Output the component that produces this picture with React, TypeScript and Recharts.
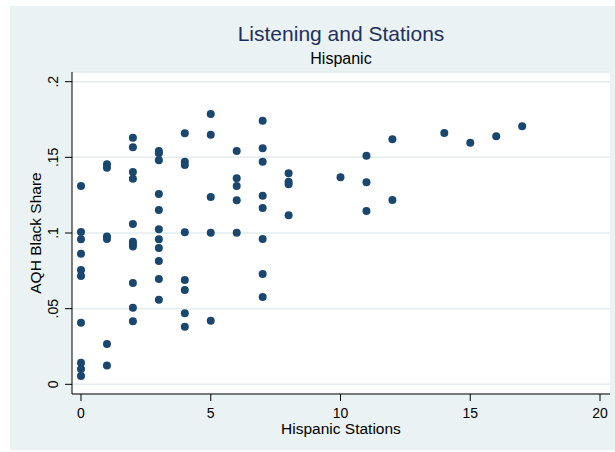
import {
  ScatterChart,
  Scatter,
  XAxis,
  YAxis,
  CartesianGrid,
  Label,
} from "recharts";

// AQH black share, grouped by number of Hispanic stations in the market
const stationCounts = [0, 1, 2, 3, 4, 5, 6, 7, 8, 10, 11, 12, 14, 15, 16, 17];

const share0 = [0.1311, 0.1007, 0.0958, 0.0863, 0.0755, 0.0716, 0.0407, 0.0143, 0.0101, 0.0055];
const share1 = [0.1454, 0.1432, 0.0977, 0.096, 0.0266, 0.0124];
const share2 = [0.163, 0.1566, 0.1403, 0.1359, 0.1059, 0.0942, 0.0927, 0.091, 0.067, 0.0506, 0.0416];
const share3 = [0.1542, 0.1527, 0.148, 0.1258, 0.1152, 0.1024, 0.0958, 0.0901, 0.0815, 0.0696, 0.0559];
const share4 = [0.1659, 0.1471, 0.1449, 0.1005, 0.0689, 0.0623, 0.0469, 0.038];
const share5 = [0.1787, 0.165, 0.1238, 0.1002, 0.042];
const share6 = [0.1542, 0.1362, 0.1311, 0.1216, 0.1002];
const share7 = [0.1742, 0.156, 0.1471, 0.1247, 0.1165, 0.096, 0.0729, 0.0577];
const share8 = [0.1395, 0.1339, 0.1322, 0.1117];
const share10 = [0.1368];
const share11 = [0.1511, 0.1335, 0.1145];
const share12 = [0.1619, 0.1218];
const share14 = [0.1661];
const share15 = [0.1597];
const share16 = [0.1639];
const share17 = [0.1705];

const sharesByCount = [
  share0, share1, share2, share3, share4, share5, share6, share7,
  share8, share10, share11, share12, share14, share15, share16, share17,
];

const xTicks = [0, 5, 10, 15, 20];
const yTicks = [0, 0.05, 0.1, 0.15, 0.2];

const points = stationCounts.flatMap((n, i) =>
  sharesByCount[i].map((share) => ({ stations: n, share }))
);

const BG = "#eaf2f3";
const NAVY = "#1a476f";
const FONT = "'Liberation Sans', Arial, sans-serif";

const fmtY = (v: number) => (v === 0 ? "0" : String(v).replace(/^0/, ""));

const YTick = (props: any) => {
  const { x, y, payload } = props;
  const tx = x - 12;
  return (
    <text
      x={tx}
      y={y}
      dy="0.35em"
      textAnchor="middle"
      fontSize={14}
      fill="#000"
      transform={`rotate(-90, ${tx}, ${y})`}
    >
      {fmtY(payload.value)}
    </text>
  );
};

const Dot = (props: any) => (
  <circle cx={props.cx} cy={props.cy} r={4} fill={NAVY} />
);

export default function App() {
  return (
    <div
      style={{
        position: "absolute",
        left: 10,
        top: 6,
        width: 605,
        height: 444,
        background: BG,
        fontFamily: FONT,
      }}
    >
      <div
        style={{
          position: "absolute",
          left: 62,
          width: 538,
          top: 16,
          textAlign: "center",
          fontSize: 21,
          color: "#1e2f5c",
        }}
      >
        Listening and Stations
      </div>
      <div
        style={{
          position: "absolute",
          left: 62,
          width: 538,
          top: 44,
          textAlign: "center",
          fontSize: 16,
          color: "#000",
        }}
      >
        Hispanic
      </div>
      <ScatterChart
        width={605}
        height={444}
        margin={{ top: 66, right: 5, bottom: 0, left: 0 }}
        style={{ position: "absolute", left: 0, top: 0, fontFamily: FONT }}
      >
        <CartesianGrid
          fill="#fff"
          vertical={false}
          stroke="#e3ecee"
          strokeWidth={1.5}
        />
        <XAxis
          type="number"
          dataKey="stations"
          domain={[-0.347, 20.385]}
          ticks={xTicks}
          height={56}
          tickSize={7}
          tickMargin={7}
          allowDataOverflow
          stroke="#000"
          tick={{ fontSize: 14, fill: "#000" }}
        >
          <Label
            value="Hispanic Stations"
            position="insideBottom"
            offset={16}
            style={{ fontSize: 15.5, fill: "#000" }}
          />
        </XAxis>
        <YAxis
          type="number"
          dataKey="share"
          domain={[-0.0064, 0.2064]}
          ticks={yTicks}
          width={62}
          tickSize={7}
          tickMargin={0}
          allowDataOverflow
          stroke="#000"
          tick={<YTick />}
        >
          <Label
            value="AQH Black Share"
            angle={-90}
            position="insideLeft"
            offset={25}
            style={{ fontSize: 15.5, fill: "#000", textAnchor: "middle" }}
          />
        </YAxis>
        <Scatter
          data={points}
          fill={NAVY}
          shape={<Dot />}
          isAnimationActive={false}
        />
      </ScatterChart>
    </div>
  );
}
